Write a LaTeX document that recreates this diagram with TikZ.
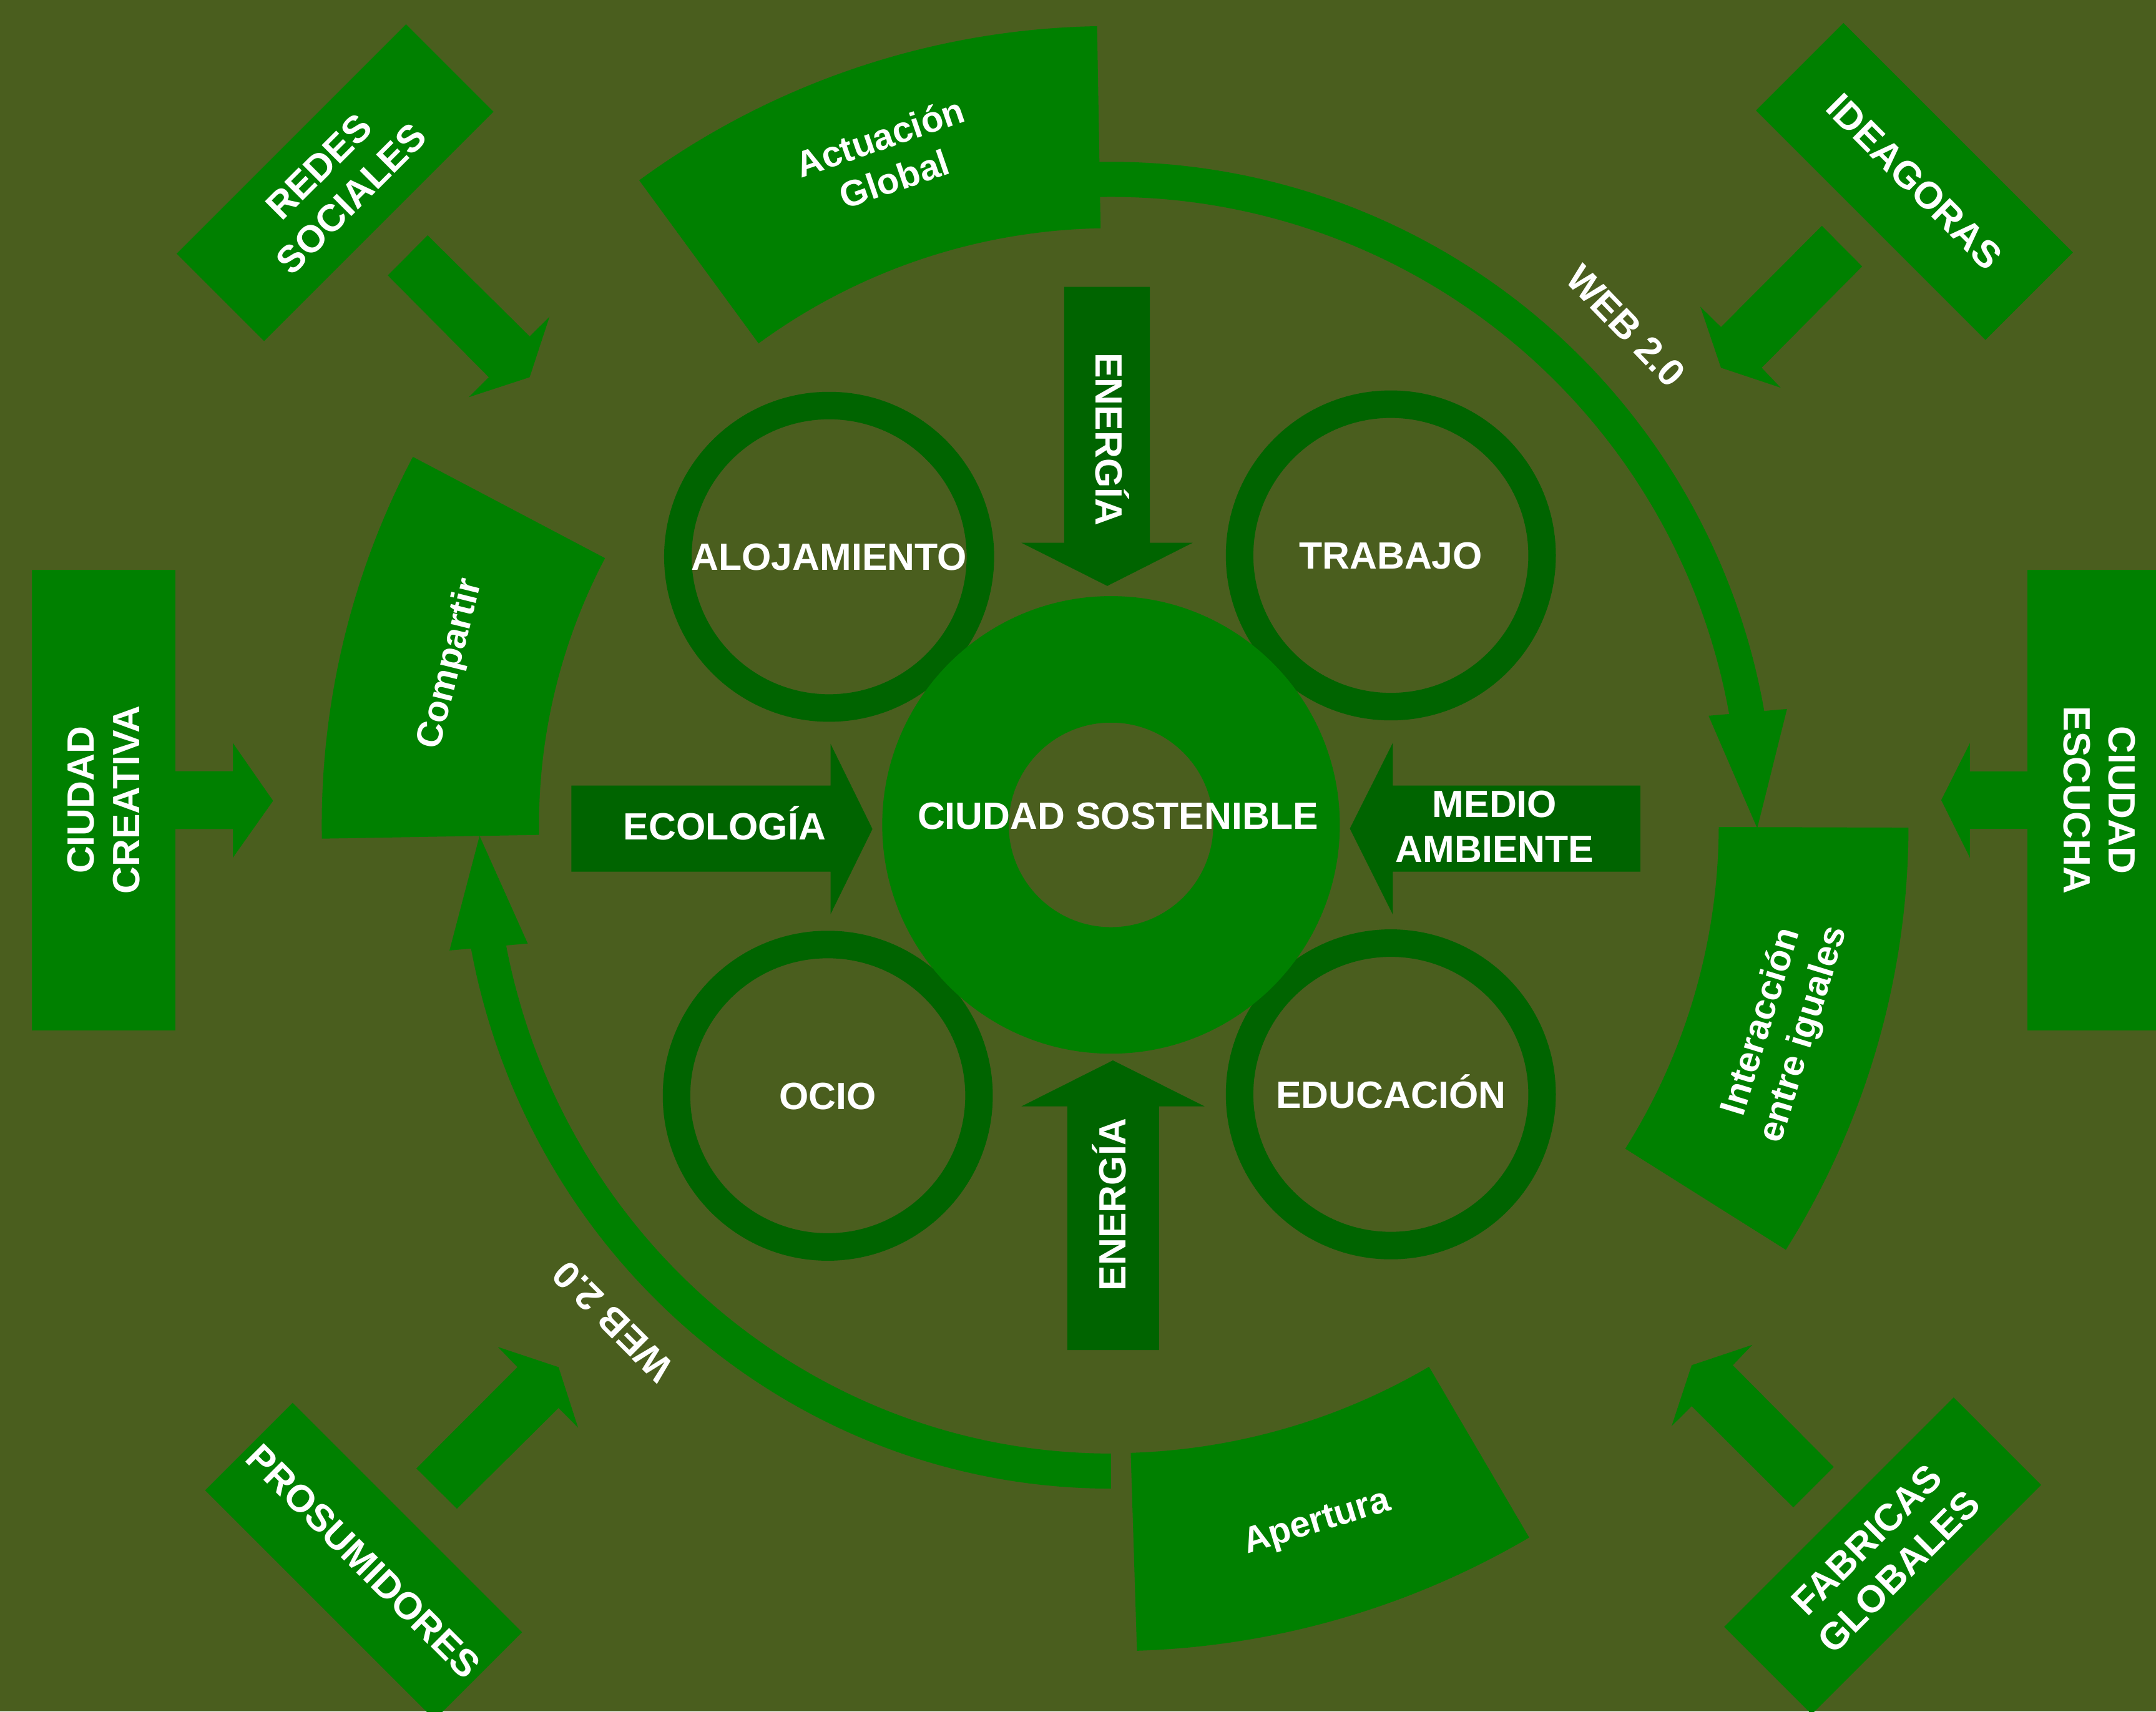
\documentclass[tikz,border=0pt]{standalone}
\usepackage{fontspec}
\setmainfont{Liberation Sans}
\usetikzlibrary{positioning}
\definecolor{fondo}{RGB}{74,94,30}
\definecolor{verde}{RGB}{0,128,0}
\definecolor{oscuro}{RGB}{0,100,0}
\tikzset{
  base/.style={text=white,inner sep=0pt,font=\fontsize{13.8}{16.5}\selectfont\bfseries},
  mayus/.style={base,text height=9.9pt,text depth=0pt},
  rotulo/.style={base,align=center},
  sector/.style={rotulo,font=\fontsize{13.2}{16}\selectfont\bfseries},
  caja/.style={rotulo,fill=verde,minimum width=118pt,minimum height=45pt},
  lateral/.style={rotulo,fill=verde,minimum width=167.5pt,minimum height=52.25pt},
  anillo/.style={fill=oscuro,even odd rule},
  banda/.style={draw=verde,line width=12.75pt}
}
\begin{document}
\begin{tikzpicture}[x=0.5pt,y=0.5pt]
\fill[fondo] (0,0) rectangle (1568,1245);
\useasboundingbox (0,0) rectangle (1568,1245);
\clip (0,0) rectangle (1568,1245);
\node[caja,rotate=45] (redes) at (243.7,1112.1) {REDES\\SOCIALES};
\node[caja,rotate=-45] (ideagoras) at (1392.3,1113) {IDEAGORAS};
\node[caja,rotate=-45] (prosumidores) at (264.4,109.4) {PROSUMIDORES};
\node[caja,rotate=45] (fabricas) at (1369.2,113.3) {FABRICAS\\GLOBALES};
\node[lateral,rotate=90] (creativa) at (75.4,663.1) {CIUDAD\\CREATIVA};
\node[lateral,rotate=-90] (escucha) at (1526.8,663.1) {CIUDAD\\ESCUCHA};
\fill[verde] (311,1073.8)--(385.2,1000.3)--(399.6,1014.5)--(385.2,970.6)--(340.9,956.1)--(355.5,970.6)--(282,1044.7)--cycle;
\fill[verde] (1325,1080.7)--(1354.3,1051.2)--(1281.2,977.5)--(1295,963)--(1251.6,977.5)--(1236.6,1021.9)--(1251.6,1007.1)--cycle;
\fill[verde] (302.8,176.9)--(376.3,250.6)--(362.1,265.3)--(406.2,250.6)--(420.4,206.6)--(406.2,220.9)--(332.3,147.6)--cycle;
\fill[verde] (1333.6,178)--(1260.2,252)--(1274.4,266.8)--(1230.3,252)--(1215.7,207.7)--(1230.3,222.2)--(1304.2,148.6)--cycle;
\fill[verde] (127.6,684)--(169.4,684)--(169.4,704.5)--(198.6,662.5)--(169.4,621.2)--(169.4,642)--(127.6,642)--cycle;
\fill[verde] (1474.5,683.8)--(1432.6,683.8)--(1432.6,704.4)--(1411.8,663)--(1432.6,621.2)--(1432.6,642.1)--(1474.5,642.1)--cycle;
\begin{scope}[shift={(808,645)}]
\draw[banda] (100:469.5) arc[start angle=100,end angle=9.5,radius=469.5];
\fill[verde] (10.35:441.8)--(9.73:498.8)--(-0.3:470)--cycle;
\draw[banda] (0,-470) arc[start angle=270,end angle=190.5,x radius=461,y radius=470];
\fill[verde] (191.5:432.9)--(190.75:489.7)--(181:459.3)--cycle;
\fill[verde] (91:434) arc[start angle=91,end angle=126.2,radius=434]--(126.2:581) arc[start angle=126.2,end angle=91,radius=581]--cycle;
\fill[verde] (152.2:416) arc[start angle=152.2,end angle=181,radius=416]--(181:574) arc[start angle=181,end angle=152.2,radius=574]--cycle;
\fill[verde] (-32.2:442) arc[start angle=-32.2,end angle=-0.2,radius=442]--(-0.2:580) arc[start angle=-0.2,end angle=-32.2,radius=580]--cycle;
\fill[verde] (-88.2:457) arc[start angle=-88.2,end angle=-59.6,radius=457]--(-59.6:601) arc[start angle=-59.6,end angle=-88.2,radius=601]--cycle;
\foreach \x/\y/\n/\t in {-205/195/alojamiento/ALOJAMIENTO, 203.5/196/trabajo/TRABAJO, -206/-197/ocio/OCIO, 203.5/-196/educacion/EDUCACIÓN} {
  \fill[anillo] (\x,\y) circle (120) (\x,\y) circle (100);
  \node[mayus] (\n) at (\x,\y) {\t};
}
\fill[verde,even odd rule] (0,0) circle (166.4) (0,0) circle (74.4);
\fill[oscuro] (-34,391.3)--(28.2,391.3)--(28.2,205.2)--(59.4,205.2)--(-2.7,173.8)--(-65.2,205.2)--(-34,205.2)--cycle;
\fill[oscuro] (-31.8,-382)--(35,-382)--(35,-204.7)--(68,-204.7)--(1.4,-171.3)--(-65.1,-204.7)--(-31.8,-204.7)--cycle;
\fill[oscuro] (-392.5,28.6)--(-204,28.6)--(-204,59)--(-173.5,-3)--(-204,-65)--(-204,-34)--(-392.5,-34)--cycle;
\fill[oscuro] (385,28.6)--(205,28.6)--(205,59.8)--(173.7,-2.7)--(205,-65.3)--(205,-34)--(385,-34)--cycle;
\node[mayus] (sostenible) at (5,7) {CIUDAD SOSTENIBLE};
\node[mayus,rotate=-90] (energiaarriba) at (-1.2,280.5) {ENERGÍA};
\node[mayus,rotate=90] (energiaabajo) at (1,-276) {ENERGÍA};
\node[mayus] (ecologia) at (-281,-1) {ECOLOGÍA};
\node[rotulo] (medio) at (279,-1.2) {MEDIO\\AMBIENTE};
\node[sector,rotate=19] (actuacion) at (-162.9,485.1) {Actuación\\Global};
\node[sector,rotate=76] (compartir) at (-480,117) {Compartir};
\node[sector,rotate=73] (interaccion) at (489,-148) {Interacción\\entre iguales};
\node[sector,rotate=17] (apertura) at (150,-508) {Apertura};
\node[base,rotate=-46] (webarriba) at (374.4,363) {WEB 2.0};
\node[base,rotate=135] (webabajo) at (-362.3,-361) {WEB 2.0};
\end{scope}
\end{tikzpicture}
\end{document}
